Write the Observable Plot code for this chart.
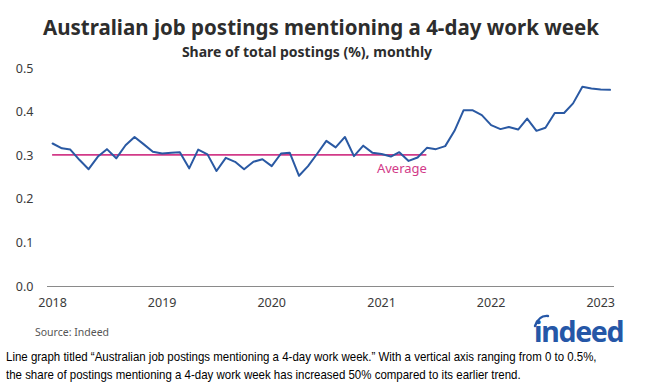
<!DOCTYPE html>
<html>
<head>
<meta charset="utf-8">
<script src="https://cdn.jsdelivr.net/npm/d3@7"></script>
<script src="https://cdn.jsdelivr.net/npm/@observablehq/plot@0.6"></script>
<style>
  html, body { margin: 0; padding: 0; background: #fff; }
  body { width: 664px; height: 390px; position: relative; overflow: hidden; font-family: "Noto Sans", sans-serif; }
  #title { position: absolute; left: 0; width: 642px; top: 13px; text-align: center; font-size: 20.5px; font-weight: 700; color: #2d2d2d; }
  #subtitle { position: absolute; left: 0; width: 614px; top: 42px; text-align: center; font-size: 14px; font-weight: 700; color: #2d2d2d; }
  #chart { position: absolute; left: 0; top: 58px; }
  #source { position: absolute; left: 35px; top: 325px; font-size: 10.5px; color: #555; }
  #logo { position: absolute; left: 534px; top: 312px; font-size: 28.5px; font-weight: 700; color: #2557a7; letter-spacing: -1.3px; font-family: "Noto Sans", sans-serif; }
  #swoosh { position: absolute; left: 531px; top: 312px; }
  #caption { position: absolute; left: 6px; top: 348px; font-family: "Liberation Sans", Arial, sans-serif; font-size: 12.4px; line-height: 18px; color: #000; white-space: nowrap; transform: scaleX(0.926); transform-origin: 0 0; }
</style>
</head>
<body>
<div id="title">Australian job postings mentioning a 4-day work week</div>
<div id="subtitle">Share of total postings (%), monthly</div>
<div id="chart"></div>
<div id="source">Source: Indeed</div>
<div id="logo">indeed</div>
<svg id="swoosh" width="20" height="16"><path d="M4,14 Q8,3 17,4" fill="none" stroke="#2557a7" stroke-width="2.4" stroke-linecap="round"/></svg>
<div id="caption">Line graph titled “Australian job postings mentioning a 4-day work week.” With a vertical axis ranging from 0 to 0.5%,<br>the share of postings mentioning a 4-day work week has increased 50% compared to its earlier trend.</div>
<script>
// Monthly share of postings (%), Jan 2018 – Feb 2023
const share = [
  0.328, 0.317, 0.314, 0.290, 0.269, 0.298, 0.315, 0.294, 0.324, 0.343, 0.326, 0.309,
  0.305, 0.307, 0.308, 0.271, 0.314, 0.303, 0.265, 0.295, 0.286, 0.269, 0.286, 0.292,
  0.276, 0.305, 0.307, 0.254, 0.276, 0.305, 0.334, 0.319, 0.343, 0.299, 0.323, 0.307,
  0.304, 0.298, 0.308, 0.288, 0.296, 0.318, 0.315, 0.322, 0.357, 0.404, 0.404, 0.393,
  0.370, 0.361, 0.366, 0.360, 0.385, 0.357, 0.364, 0.398, 0.398, 0.420, 0.458, 0.454,
  0.452, 0.451
];
const firstMonth = new Date(Date.UTC(2018, 0, 1));
const months = d3.utcMonth.range(firstMonth, d3.utcMonth.offset(firstMonth, share.length));
const average = 0.302;
const averageStart = new Date(Date.UTC(2018, 0, 1));
const averageEnd = new Date(Date.UTC(2021, 5, 1));
const averageLabel = "Average";
const yTicks = [0, 0.1, 0.2, 0.3, 0.4, 0.5];
const xTicks = [2018, 2019, 2020, 2021, 2022, 2023].map(y => new Date(Date.UTC(y, 0, 1)));

const data = months.map((d, i) => ({date: d, value: share[i]}));
const avgData = [{x1: averageStart, x2: averageEnd, y: average, label: averageLabel}];

const blue = "#2a59a3";
const pink = "#d23a88";

const chart = Plot.plot({
  width: 664,
  height: 262,
  marginLeft: 47,
  marginRight: 50,
  marginTop: 10,
  marginBottom: 34,
  style: {fontFamily: "Noto Sans, sans-serif", fontSize: "12.5px", color: "#3a3a3a", background: "transparent"},
  x: {type: "utc", domain: [new Date(Date.UTC(2017, 11, 15)), new Date(Date.UTC(2023, 1, 16))], ticks: xTicks, tickFormat: d3.utcFormat("%Y"), tickSize: 0, tickPadding: 12, label: null},
  y: {domain: [0, 0.5], ticks: yTicks, tickFormat: d3.format(".1f"), tickSize: 0, tickPadding: 14, label: null},
  marks: [
    Plot.ruleY([0], {stroke: "#8a8a8a", strokeWidth: 1}),
    Plot.ruleY(avgData, {x1: "x1", x2: "x2", y: "y", stroke: pink, strokeWidth: 1.6}),
    Plot.text(avgData, {x: "x2", y: "y", text: "label", fill: pink, textAnchor: "end", dy: 14, fontSize: 13}),
    Plot.line(data, {x: "date", y: "value", stroke: blue, strokeWidth: 2, strokeLinejoin: "round"})
  ]
});
document.getElementById("chart").appendChild(chart);
</script>
</body>
</html>
